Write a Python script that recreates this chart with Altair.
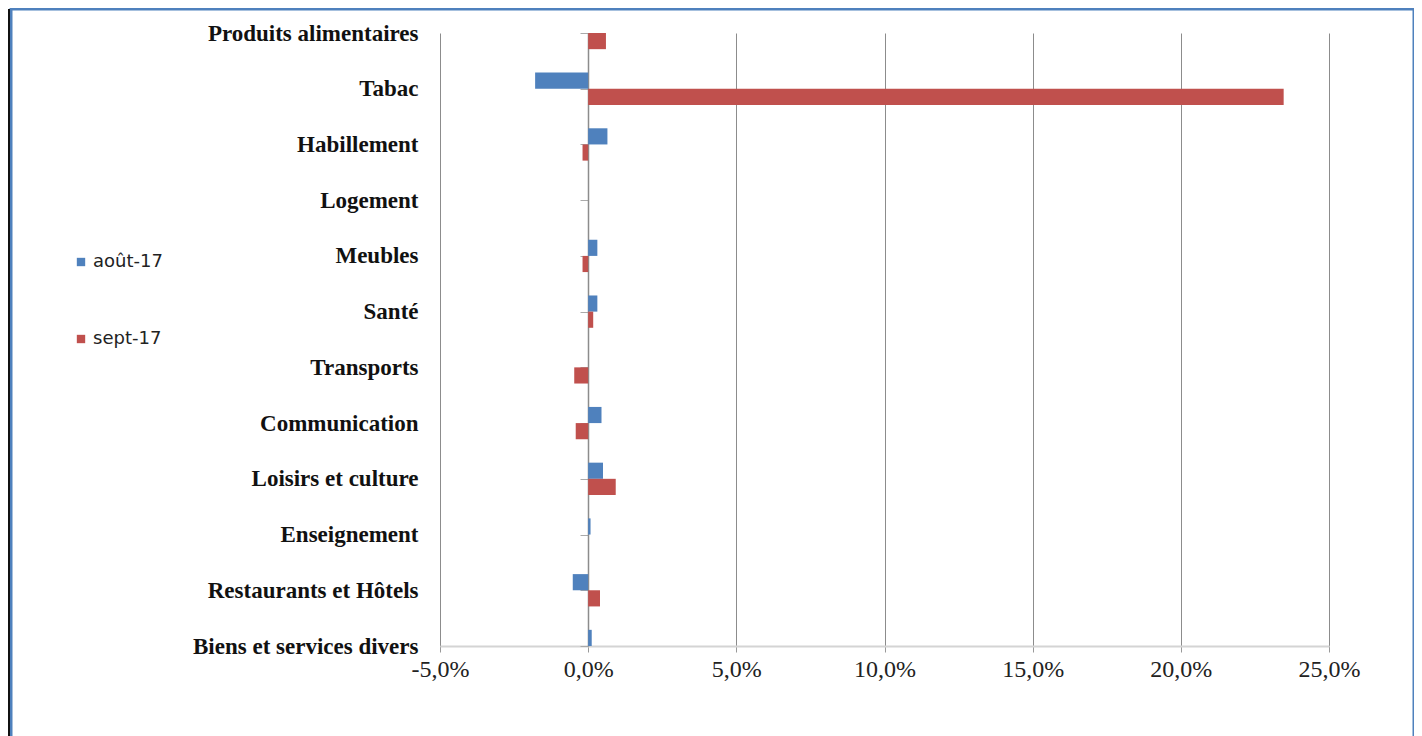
import altair as alt
import pandas as pd

categories = ["Produits alimentaires", "Tabac\u00a0", "Habillement", "Logement", "Meubles",
              "Santé", "Transports", "Communication", "Loisirs et culture",
              "Enseignement", "Restaurants et Hôtels", "Biens et services divers"]
series = ["août-17", "sept-17"]
aout_17 = [0.30, -1.79, 0.65, 0.00, 0.31, 0.31, 0.00, 0.45, 0.50, 0.08, -0.52, 0.12]
sept_17 = [0.60, 23.47, -0.19, 0.00, -0.19, 0.17, -0.47, -0.42, 0.93, 0.00, 0.40, 0.30]
x_ticks = [-5, 0, 5, 10, 15, 20, 25]

rows = []
for i, c in enumerate(categories):
    rows.append({"idx": i, "cat": c, "serie": series[0], "val": aout_17[i]})
    rows.append({"idx": i, "cat": c, "serie": series[1], "val": sept_17[i]})
df = pd.DataFrame(rows)

W, H = 889, 613
names_js = "[" + ",".join("'" + c + "'" for c in categories) + "]"

bars = alt.Chart(df).transform_calculate(
    y0="datum.idx + (datum.serie == 'août-17' ? -0.29 : 0)",
    zero="0",
).transform_calculate(
    y1="datum.y0 + 0.29"
).mark_bar(clip=True).encode(
    x=alt.X("val:Q",
            scale=alt.Scale(domain=[-5, 25], nice=False, zero=False),
            axis=alt.Axis(values=x_ticks, grid=True, gridColor="#8c8c8c", gridWidth=1,
                          domainColor="#d4d4d4", domainWidth=2,
                          tickColor="#999999", tickSize=6, labelFlush=False,
                          labelExpr="replace(replace(format(datum.value, '.1f'), '.', ','), '\u2212', '-') + '%'",
                          labelFont="Liberation Serif", labelFontSize=24,
                          labelColor="#222222", labelPadding=5, title=None)),
    x2="zero:Q",
    y=alt.Y("y0:Q",
            scale=alt.Scale(domain=[0, 11], reverse=True, nice=False, zero=False),
            axis=alt.Axis(values=list(range(len(categories))), offset=-148,
                          labelExpr=names_js + "[datum.value]",
                          labelFont="Liberation Serif", labelFontWeight="bold",
                          labelFontSize=23, labelColor="#111111", labelLimit=500,
                          labelPadding=162, tickSize=8, tickColor="#aaaaaa",
                          domainColor="#8c8c8c", domainWidth=1.5, grid=False,
                          title=None)),
    y2="y1:Q",
    color=alt.Color("serie:N",
                    scale=alt.Scale(domain=series, range=["#4F81BD", "#C0504D"]),
                    legend=alt.Legend(title=None, orient="none", legendX=-368, legendY=220,
                                      symbolType="square", symbolSize=70,
                                      symbolStrokeWidth=0,
                                      labelFont="DejaVu Sans", labelFontSize=18,
                                      labelColor="#222222", rowPadding=59, labelOffset=3)),
)

frame_data = alt.Data(values=[{"a": 1}])
border = alt.Chart(frame_data).mark_rect(fill=None, stroke="#4f81bd", strokeWidth=3, clip=False).encode(
    x=alt.value(-429), x2=alt.value(974), y=alt.value(-24), y2=alt.value(730)
)
left_line = alt.Chart(frame_data).mark_rule(color="#111111", strokeWidth=2, clip=False).encode(
    x=alt.value(-431), y=alt.value(-24), y2=alt.value(730)
)

chart = alt.layer(border, left_line, bars).properties(
    width=W, height=H,
    autosize=alt.AutoSizeParams(type="none"),
    padding={"left": 432, "top": 25, "right": 85, "bottom": 90},
    background="white",
).configure_view(stroke=None)

chart.save("out.html", embed_options={"renderer": "svg", "actions": False})
